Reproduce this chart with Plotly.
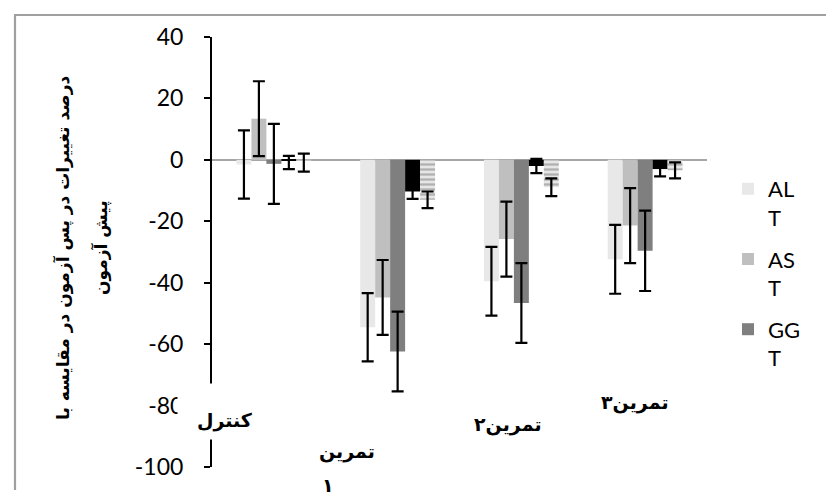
import plotly.graph_objects as go

categories = ["کنترل", "تمرین ۱", "تمرین۲", "تمرین۳"]
cat_label_lines = [["کنترل"], ["تمرین", "۱"], ["تمرین۲"], ["تمرین۳"]]

ALT = [-1.5, -54.5, -39.5, -32.4]
ALT_err = [11.1, 11.1, 11.2, 11.2]
AST = [13.4, -44.8, -25.8, -21.4]
AST_err = [12.2, 12.2, 12.2, 12.2]
GGT = [-1.3, -62.4, -46.6, -29.6]
GGT_err = [13.0, 13.0, 13.0, 13.1]
S4 = [-0.3, -10.3, -2.0, -3.0]
S4_err_plus = [1.6, 2.4, 2.3, 2.4]
S4_err_minus = [2.7, 2.4, 2.3, 2.4]
S5 = [-0.3, -13.0, -8.9, -3.4]
S5_err_plus = [2.3, 2.7, 2.9, 2.6]
S5_err_minus = [3.5, 2.7, 2.9, 2.6]

y_ticks = [40, 20, 0, -20, -40, -60, -80, -100]
y_tick_labels = ["40", "20", "0", "-20", "-40", "-60", "-80", "-100"]

title_line1 = "درصد تغییرات در پس آزمون در مقایسه با"
title_line2 = "پیش آزمون"

# page body has an 8px margin; figure sized to fill the 834x496 window
OFF = 8
W, H = 834 - OFF, 496 - OFF
# plot area in window (screen) pixels
L, R, T, B = 212, 707, 37, 467


def px(x):
    return (x - L) / (R - L)


def py(y):
    return (B - y) / (B - T)


err_style = dict(color="black", thickness=2.2, width=6)
fig = go.Figure()
fig.add_trace(go.Bar(x=categories, y=ALT, name="AL<br>T", marker_color="#e8e8e8", legendgroup="a",
                     error_y=dict(type="data", array=ALT_err, **err_style)))
fig.add_trace(go.Bar(x=categories, y=AST, name="AS<br>T", marker_color="#bfbfbf", legendgroup="b",
                     error_y=dict(type="data", array=AST_err, **err_style)))
fig.add_trace(go.Bar(x=categories, y=GGT, name="GG<br>T", marker_color="#7f7f7f", legendgroup="c",
                     error_y=dict(type="data", array=GGT_err, **err_style)))
fig.add_trace(go.Bar(x=categories, y=S4, name="S4", marker_color="#000000", showlegend=False,
                     legendgroup="d",
                     error_y=dict(type="data", array=S4_err_plus, arrayminus=S4_err_minus,
                                  symmetric=False, **err_style)))
fig.add_trace(go.Bar(x=categories, y=S5, name="S5", showlegend=False, legendgroup="e",
                     marker=dict(color="#e0e0e0",
                                 pattern=dict(shape="-", fgcolor="#7a7a7a", bgcolor="#e6e6e6",
                                              size=5, solidity=0.45)),
                     error_y=dict(type="data", array=S5_err_plus, arrayminus=S5_err_minus,
                                  symmetric=False, **err_style)))

fig.update_traces(marker_line_width=0)

annotations = []
# white box that interrupts the y axis behind the first category label
annotations.append(dict(text=" ", xref="paper", yref="paper", x=px(177), y=py(383),
                        xanchor="left", yanchor="top", width=83, height=55, borderpad=0,
                        bgcolor="white", showarrow=False, font=dict(size=10)))
# category labels (staggered, bold)
lab_pos = [[(225, 420)], [(347, 451), (328, 485)], [(508, 424)], [(635, 402)]]
for lines, poss in zip(cat_label_lines, lab_pos):
    for txt, (ax, ay) in zip(lines, poss):
        annotations.append(dict(
            text="<b>%s</b>" % txt, xref="paper", yref="paper", x=px(ax), y=py(ay),
            showarrow=False, font=dict(family="DejaVu Sans", size=19, color="black"),
            xanchor="center", yanchor="middle"))

for txt, xx in [(title_line1, 63), (title_line2, 101)]:
    annotations.append(dict(
        text="<b>%s</b>" % txt, xref="paper", yref="paper", x=px(xx), y=py(248),
        textangle=-90, showarrow=False,
        font=dict(family="DejaVu Sans", size=17, color="black"),
        xanchor="center", yanchor="middle"))

border = dict(color="#a0a0a0", width=2.2)
fig.update_layout(
    width=W, height=H,
    margin=dict(l=L - OFF, r=W - (R - OFF), t=T - OFF, b=H - (B - OFF), pad=0, autoexpand=False),
    paper_bgcolor="white", plot_bgcolor="white",
    barmode="group", bargap=0.395, bargroupgap=0,
    font=dict(family="Lato, DejaVu Sans", color="black"),
    xaxis=dict(showline=False, showticklabels=False, ticks="", showgrid=False, zeroline=False,
               range=[-0.5, 3.5], automargin=False),
    yaxis=dict(range=[-100, 40], tickvals=y_ticks, ticktext=y_tick_labels, showgrid=False,
               showline=True, automargin=False, ticklabelstandoff=16,
               linecolor="black", linewidth=2, ticks="outside", ticklen=6, tickwidth=2,
               tickcolor="black", tickfont=dict(size=23, family="Lato"),
               zeroline=True, zerolinecolor="#a6a6a6", zerolinewidth=2),
    legend=dict(x=px(728), y=py(168), xanchor="left", yanchor="top", valign="top",
                font=dict(size=22, family="Lato"), tracegroupgap=10, traceorder="grouped",
                bgcolor="rgba(0,0,0,0)", itemwidth=30),
    annotations=annotations,
    shapes=[
        dict(type="line", xref="paper", yref="paper", x0=px(15), x1=px(15),
             y0=py(15), y1=py(490), line=border),
        dict(type="line", xref="paper", yref="paper", x0=px(14), x1=px(830),
             y0=py(15), y1=py(15), line=border),
    ],
    showlegend=True,
)

fig.write_html("out.html")
